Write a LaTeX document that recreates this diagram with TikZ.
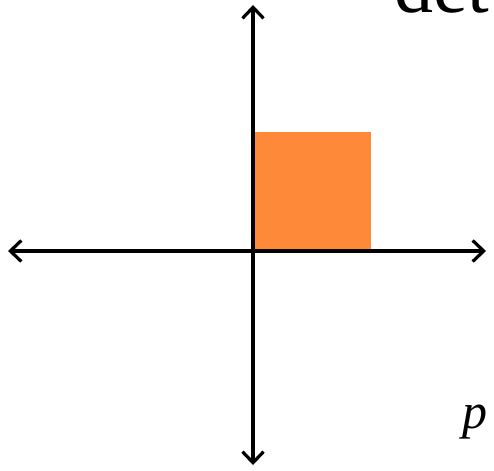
\documentclass[tikz,border=0pt]{standalone}
\usepackage{fontspec}
\setmainfont{Liberation Serif}
\usepackage{tikz}
\usetikzlibrary{arrows.meta}
\definecolor{boxorange}{RGB}{253,137,57}

\begin{document}
\begin{tikzpicture}[x=1pt, y=-1pt,
    tip/.style={Straight Barb[length=11pt,width=21pt,line width=3.2pt]},
    axis/.style={line width=3.2pt, {Straight Barb[length=11pt,width=21pt,line width=3.2pt]}-{Straight Barb[length=11pt,width=21pt,line width=3.2pt]}}]
    \clip (0,0) rectangle (494,470);

    \fill[boxorange] (253,132) rectangle (371,251);

    \coordinate (xl) at (8,251);
    \coordinate (xr) at (486,251);
    \coordinate (yb) at (253,465);
    \coordinate (yt) at (253,5);
    \draw[axis] (xl) -- (xr);
    \draw[axis] (yb) -- (yt);

    \node[anchor=base west, inner sep=0pt, font=\fontsize{78}{78}\selectfont] (det) at (394,13) {det};
    \node[anchor=base west, inner sep=0pt, font=\fontsize{50}{50}\selectfont\itshape] (p) at (462,428) {p};
\end{tikzpicture}
\end{document}
